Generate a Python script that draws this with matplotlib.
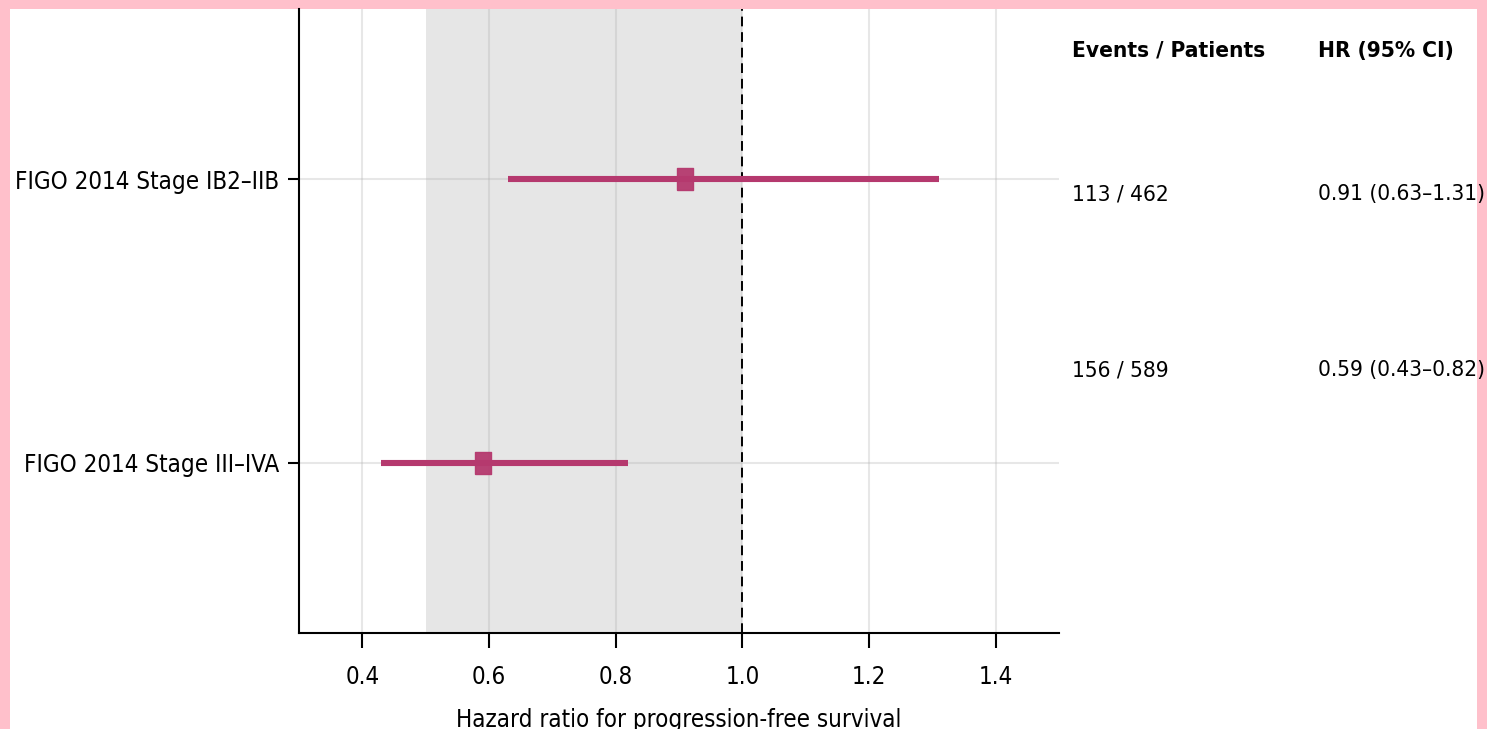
import matplotlib
matplotlib.use("Agg")
import matplotlib.pyplot as plt
from matplotlib import font_manager
from matplotlib.patches import Rectangle

# the reference uses a narrow face; pick a condensed one if installed
fonts = {(f.name, f.stretch) for f in font_manager.fontManager.ttflist}
names = {f.name for f in font_manager.fontManager.ttflist}
if ("DejaVu Sans", "condensed") in fonts or ("DejaVu Sans", "semi-condensed") in fonts:
    FAMILY, STRETCH, SCALE = "DejaVu Sans", "condensed", 1.0
elif "DejaVu Sans Condensed" in names:
    FAMILY, STRETCH, SCALE = "DejaVu Sans Condensed", "normal", 1.0
elif "Roboto Condensed" in names:
    FAMILY, STRETCH, SCALE = "Roboto Condensed", "normal", 1.0
elif "Liberation Sans Narrow" in names:
    FAMILY, STRETCH, SCALE = "Liberation Sans Narrow", "normal", 1.0
else:
    FAMILY, STRETCH, SCALE = "DejaVu Sans", "normal", 0.88

plt.rcParams["font.family"] = [FAMILY, "DejaVu Sans"]
plt.rcParams["font.stretch"] = STRETCH

# data
labels = ["FIGO 2014 Stage IB2\u2013IIB", "FIGO 2014 Stage III\u2013IVA"]
hr = [0.91, 0.59]
ci_low = [0.63, 0.43]
ci_high = [1.31, 0.82]
events = ["113 / 462", "156 / 589"]
hr_text = ["0.91 (0.63\u20131.31)", "0.59 (0.43\u20130.82)"]
xticks = [0.4, 0.6, 0.8, 1.0, 1.2, 1.4]

COLOR = "#b5396e"
W, H = 1487, 729
FS_AX = 17.3 * SCALE     # tick and axis labels
FS_TAB = 16.2 * SCALE    # table text

fig = plt.figure(figsize=(W / 100, H / 100), dpi=100, facecolor="#ffc0cb")
# white panel inside pink frame
fig.patches.append(Rectangle((10 / W, 0), 1467 / W, 720 / H,
                             transform=fig.transFigure, facecolor="white",
                             edgecolor="none", zorder=-5))

ax = fig.add_axes([299 / W, 96 / H, 760 / W, 624 / H])
ax.set_facecolor("none")

ypos = [1, 0]

ax.axvspan(0.5, 1.0, color="#e6e6e6", zorder=0, lw=0)
ax.axvline(1.0, color="black", linestyle=(0, (5, 3)), lw=1.4, zorder=3)

ax.grid(True, color="#b0b0b0", alpha=0.3, lw=1.5, zorder=1)
ax.set_axisbelow(True)

# narrow square marker (picture is horizontally compressed)
box = [(-0.34, -0.5), (0.34, -0.5), (0.34, 0.5), (-0.34, 0.5), (-0.34, -0.5)]
for y, h, lo, hi in zip(ypos, hr, ci_low, ci_high):
    ax.plot([lo, hi], [y, y], color=COLOR, lw=4.4, solid_capstyle="butt", zorder=4)
    ax.plot([h], [y], marker=box, markersize=16.5, color=COLOR, mec=COLOR,
            alpha=0.95, ls="none", zorder=5)

ax.set_xlim(0.3, 1.5)
ax.set_ylim(-0.6, 1.6)
ax.set_xticks(xticks)
ax.set_xticklabels([f"{t:.1f}" for t in xticks])
ax.set_yticks(ypos)
ax.set_yticklabels(labels)

for s in ["top", "right"]:
    ax.spines[s].set_visible(False)
for s in ["left", "bottom"]:
    ax.spines[s].set_linewidth(1.5)

ax.tick_params(axis="x", length=11, width=1.5, pad=12, labelsize=FS_AX)
ax.tick_params(axis="y", length=8, width=1.5, pad=6, labelsize=FS_AX)
ax.set_xlabel("Hazard ratio for progression-free survival", fontsize=FS_AX, labelpad=14)

# table on the right
def fx(px):
    return px / W

def fy(py):
    return 1 - py / H

fig.text(fx(1072), fy(51), "Events / Patients", fontsize=FS_TAB, fontweight="bold", va="center")
fig.text(fx(1318), fy(51), "HR (95% CI)", fontsize=FS_TAB, fontweight="bold", va="center")
for py, ev, ht in zip([194, 370], events, hr_text):
    fig.text(fx(1072), fy(py), ev, fontsize=FS_TAB, va="center")
    fig.text(fx(1318), fy(py), ht, fontsize=FS_TAB, va="center")

fig.savefig("out.png", dpi=100, facecolor=fig.get_facecolor())
